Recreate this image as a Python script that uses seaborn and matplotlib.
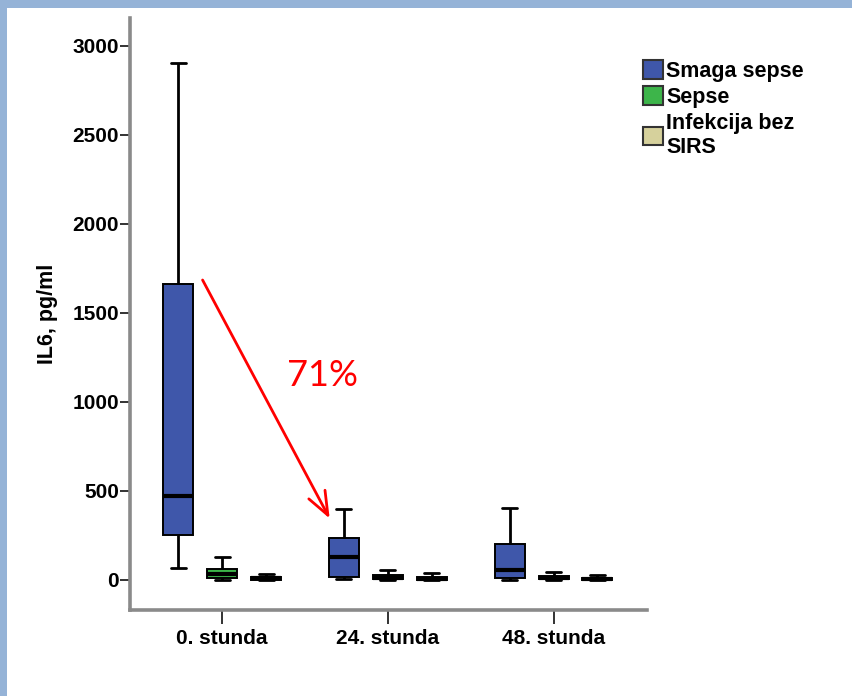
import numpy as np
import pandas as pd
import matplotlib
matplotlib.use("Agg")
import matplotlib.pyplot as plt
from matplotlib.patches import Rectangle, Patch
import seaborn as sns

# ---- data: five-number summaries (min, Q1, median, Q3, max) ----
timepoints = ["0. stunda", "24. stunda", "48. stunda"]
groups = ["Smaga sepse", "Sepse", "Infekcija bez\nSIRS"]
colors = ["#3F57AA", "#3DB54A", "#D6D19C"]

smaga_0 = [66, 250, 470, 1660, 2905]
sepse_0 = [0, 8, 35, 62, 128]
infek_0 = [0, 2, 8, 18, 36]
smaga_24 = [6, 17, 129, 236, 397]
sepse_24 = [0, 4, 12, 26, 55]
infek_24 = [0, 2, 7, 16, 38]
smaga_48 = [0, 8, 55, 203, 404]
sepse_48 = [0, 4, 12, 24, 42]
infek_48 = [0, 2, 6, 13, 30]

series = {
    ("0. stunda", groups[0]): smaga_0,
    ("0. stunda", groups[1]): sepse_0,
    ("0. stunda", groups[2]): infek_0,
    ("24. stunda", groups[0]): smaga_24,
    ("24. stunda", groups[1]): sepse_24,
    ("24. stunda", groups[2]): infek_24,
    ("48. stunda", groups[0]): smaga_48,
    ("48. stunda", groups[1]): sepse_48,
    ("48. stunda", groups[2]): infek_48,
}

rows = []
for (t, g), vals in series.items():
    for v in vals:
        rows.append({"time": t, "group": g, "IL6": v})
df = pd.DataFrame(rows)

sns.set_theme(style="white")
plt.rcParams["font.family"] = ["Liberation Sans", "DejaVu Sans"]
plt.rcParams["text.color"] = "black"
plt.rcParams["axes.labelcolor"] = "black"

fig = plt.figure(figsize=(8.52, 6.96), dpi=100)
ax = fig.add_axes([130 / 852, 1 - 610 / 696, (647 - 130) / 852, (610 - 18) / 696])

sns.boxplot(
    data=df, x="time", y="IL6", hue="group",
    order=timepoints, hue_order=groups, palette=colors,
    whis=np.inf, width=0.795, gap=0.317, showfliers=False,
    linecolor="black", linewidth=1.4,
    medianprops={"linewidth": 3, "color": "black"},
    whiskerprops={"linewidth": 2, "color": "black"},
    capprops={"linewidth": 2, "color": "black"},
    saturation=1, legend=False, ax=ax,
)

ax.set_xlim(-0.556, 2.564)
ax.set_ylim(-169, 3157)
ax.set_yticks([0, 500, 1000, 1500, 2000, 2500, 3000])
ax.set_xlabel("")
ax.set_ylabel("IL6, pg/ml", fontsize=15.5, fontweight="bold", labelpad=10,
              color="black")

for s in ["top", "right"]:
    ax.spines[s].set_visible(False)
for s in ["left", "bottom"]:
    ax.spines[s].set_color("#8a8a8a")
    ax.spines[s].set_linewidth(2.6)

ax.tick_params(axis="y", left=True, length=7, width=1.3, color="#222222",
               labelsize=15, pad=1)
ax.tick_params(axis="x", bottom=True, length=10, width=1.3, color="#222222",
               labelsize=15, pad=4)
for lab in ax.get_xticklabels() + ax.get_yticklabels():
    lab.set_color("black")
    lab.set_fontweight("bold")

# annotation arrow and percentage
ax.annotate("", xy=(0.649, 345), xytext=(-0.118, 1685),
            arrowprops=dict(arrowstyle="->,head_length=1.4,head_width=0.55",
                            color="red", lw=2, shrinkA=0, shrinkB=0))
ax.text(0.608, 1150, "71%", color="red", fontsize=26,
        family=["Lato", "DejaVu Sans"], ha="center", va="center")

# legend outside axes, top right
handles = [Patch(facecolor=c, edgecolor="#333333", linewidth=1.5) for c in colors]
leg = fig.legend(handles, groups, loc="upper left",
                 bbox_to_anchor=(643 / 852, 1 - 60 / 696),
                 frameon=False, prop={"size": 15.5, "weight": "bold"},
                 handlelength=0.95, handleheight=0.95, handletextpad=0.12,
                 labelspacing=0.22, borderaxespad=0, borderpad=0)
for t in leg.get_texts():
    t.set_color("black")

# light-blue slide border (left and top)
fig.patches.append(Rectangle((0, 0), 7 / 852, 1, transform=fig.transFigure,
                             facecolor="#95B3D7", edgecolor="none", zorder=0))
fig.patches.append(Rectangle((0, 1 - 8 / 696), 1, 8 / 696, transform=fig.transFigure,
                             facecolor="#95B3D7", edgecolor="none", zorder=0))

fig.savefig("out.png", dpi=100)
